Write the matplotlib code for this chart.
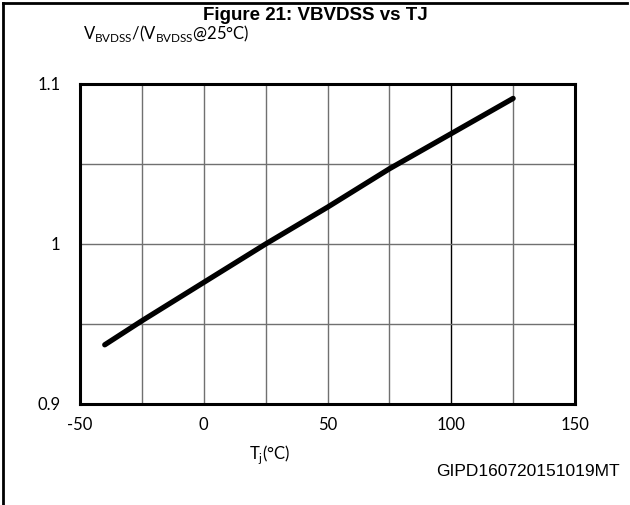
import matplotlib
matplotlib.use("Agg")
import matplotlib.pyplot as plt
from matplotlib.lines import Line2D

tj = [-40, -25, 0, 25, 50, 75, 100, 125]
ratio = [0.937, 0.952, 0.976, 1.0, 1.023, 1.047, 1.069, 1.091]
xticks = [-50, 0, 50, 100, 150]
xtick_labels = ["-50", "0", "50", "100", "150"]
yticks = [0.9, 1.0, 1.1]
ytick_labels = ["0.9", "1", "1.1"]
xgrid = [-25, 0, 25, 50, 75, 100, 125]
ygrid = [0.95, 1.0, 1.05]

W, H = 630, 505
fig = plt.figure(figsize=(W / 100, H / 100), dpi=100)
ax = fig.add_axes([80 / W, 1 - 404 / H, (575 - 80) / W, (404 - 84) / H])

lab_font = ["Lato", "DejaVu Sans"]
plt.rcParams["mathtext.fontset"] = "custom"
plt.rcParams["mathtext.rm"] = "Lato"

for g in xgrid:
    ax.axvline(g, color="#000000" if g == 100 else "#707070", lw=1.0, zorder=1)
for g in ygrid:
    ax.axhline(g, color="#707070", lw=1.0, zorder=1)

ax.plot(tj, ratio, color="black", lw=3.8, solid_capstyle="round",
        solid_joinstyle="round", zorder=3)

ax.set_xlim(-50, 150)
ax.set_ylim(0.9, 1.1)
ax.set_xticks(xticks)
ax.set_xticklabels(xtick_labels, family=lab_font, fontsize=12)
ax.set_yticks(yticks)
ax.set_yticklabels(ytick_labels, family=lab_font, fontsize=12)
ax.tick_params(length=0, pad=9)
ax.tick_params(axis="y", pad=14)
for s in ax.spines.values():
    s.set_linewidth(2.2)

fig.text(315 / W, 1 - 15 / H, "Figure 21: VBVDSS vs TJ", ha="center", va="center",
         family="Liberation Sans", fontweight="bold", fontsize=13.5)
fig.text(83 / W, 1 - 33 / H, r"V$_{\mathregular{BVDSS}}$/(V$_{\mathregular{BVDSS}}$@25°C)",
         ha="left", va="center", family=lab_font, fontsize=12)
fig.text(270 / W, 1 - 455 / H, r"T$_{\mathregular{j}}$(°C)", ha="center", va="center",
         family=lab_font, fontsize=12)
fig.text(620 / W, 1 - 472 / H, "GIPD160720151019MT", ha="right", va="center",
         family="Liberation Sans", fontsize=12.5)

fig.add_artist(Line2D([3 / W, 3 / W], [0, 1 - 3 / H], transform=fig.transFigure,
                      color="black", lw=2))
fig.add_artist(Line2D([3 / W, 627 / W], [1 - 3 / H, 1 - 3 / H], transform=fig.transFigure,
                      color="black", lw=2))

fig.savefig("out.png", dpi=100)
